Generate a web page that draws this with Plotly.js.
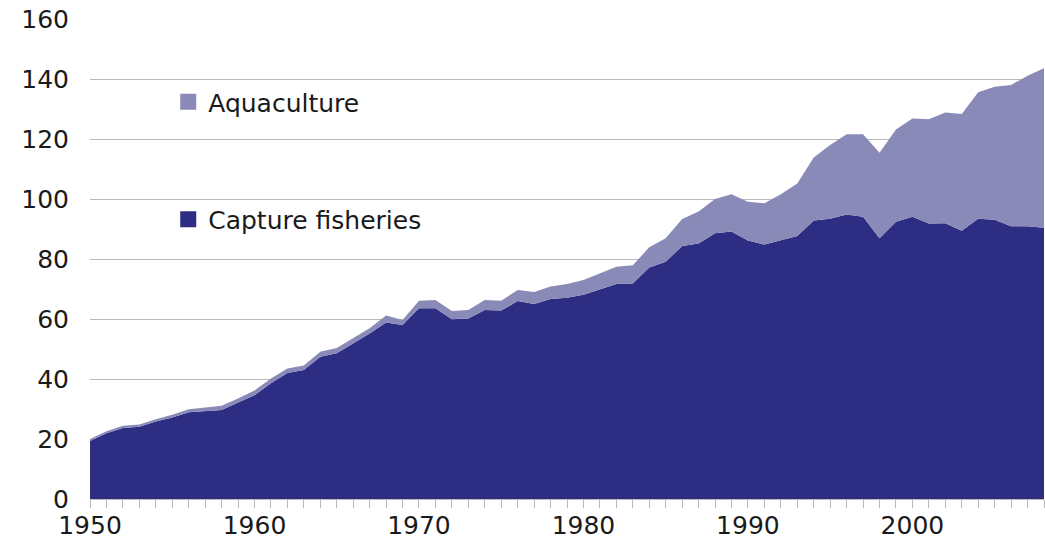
<!DOCTYPE html>
<html>
<head>
<meta charset="utf-8">
<script src="https://cdn.plot.ly/plotly-3.0.1.min.js"></script>
<style>html,body{margin:0;padding:0;background:#fff;}#chart{width:1045px;height:552px;}</style>
</head>
<body>
<div id="chart"></div>
<script>
const years = [];
for (let y = 1950; y <= 2008; y++) years.push(y);

const captureFisheries = [
  19.3, 21.9, 23.7, 24.1, 25.8, 27.2, 28.9, 29.2, 29.7, 32.2,
  34.6, 38.6, 42.0, 43.0, 47.4, 48.6, 51.9, 55.2, 58.8, 58.0,
  63.6, 63.6, 59.9, 60.2, 63.0, 62.8, 66.0, 65.0, 66.7, 67.1,
  68.1, 70.0, 71.7, 71.8, 77.2, 79.1, 84.3, 85.2, 88.6, 89.2,
  86.2, 84.8, 86.3, 87.7, 92.8, 93.4, 94.8, 94.1, 86.9, 92.4,
  94.1, 91.8, 91.9, 89.4, 93.4, 93.1, 90.9, 90.9, 90.4
];

const aquaculture = [
  0.7, 0.7, 0.7, 0.7, 0.8, 0.9, 1.0, 1.2, 1.4, 1.3,
  1.6, 1.6, 1.5, 1.5, 1.7, 1.7, 1.7, 1.7, 2.4, 1.7,
  2.5, 2.7, 2.8, 2.8, 3.3, 3.3, 3.7, 4.0, 4.1, 4.6,
  4.9, 5.2, 5.7, 6.1, 6.7, 7.8, 9.0, 10.6, 11.4, 12.4,
  12.9, 13.8, 15.3, 17.5, 21.0, 24.6, 26.8, 27.5, 28.5, 30.8,
  32.7, 34.8, 36.9, 38.9, 42.2, 44.3, 47.1, 50.2, 53.2
];

const seriesNames = ["Capture fisheries", "Aquaculture"];
const colCapture = "#2E2D84";
const colAqua = "#8A8AB8";

const traces = [
  {x: years, y: captureFisheries, name: seriesNames[0], type: "scatter", mode: "lines",
   stackgroup: "one", line: {width: 0, color: colCapture}, fillcolor: colCapture, showlegend: false},
  {x: years, y: aquaculture, name: seriesNames[1], type: "scatter", mode: "lines",
   stackgroup: "one", line: {width: 0, color: colAqua}, fillcolor: colAqua, showlegend: false},
  // legend entries
  {x: [null], y: [null], name: seriesNames[1], type: "scatter", mode: "markers",
   marker: {symbol: "square", size: 16, color: colAqua}, legendgroup: "a", showlegend: true},
  {x: [null], y: [null], name: seriesNames[0], type: "scatter", mode: "markers",
   marker: {symbol: "square", size: 16, color: colCapture}, legendgroup: "c", showlegend: true}
];

const layout = {
  width: 1045, height: 552,
  margin: {l: 90, r: 1, t: 19, b: 53},
  paper_bgcolor: "#fff", plot_bgcolor: "#fff",
  font: {family: "DejaVu Sans, Verdana, sans-serif", size: 25, color: "#1a1a1a"},
  showlegend: true,
  legend: {x: 0.082, xanchor: "left", y: 0.875, yanchor: "top", bgcolor: "rgba(0,0,0,0)",
           tracegroupgap: 82, traceorder: "grouped", font: {size: 25, color: "#1a1a1a"}},
  xaxis: {
    range: [1950, 2008], dtick: 10, tick0: 1950, showgrid: false, zeroline: false,
    showline: true, linecolor: "#b8b8b8", linewidth: 1,
    ticks: "outside", ticklen: 8, tickcolor: "#b8b8b8", ticklabelstandoff: -4,
    minor: {dtick: 1, ticks: "outside", ticklen: 8, tickcolor: "#b8b8b8", showgrid: false},
    tickfont: {size: 25, color: "#1a1a1a"}, fixedrange: true
  },
  yaxis: {
    range: [0, 160], dtick: 20, showgrid: true, gridcolor: "#b8b8b8", gridwidth: 1,
    zeroline: false, showline: false, ticks: "", ticklabelstandoff: 20,
    tickfont: {size: 25, color: "#1a1a1a"}, fixedrange: true
  }
};

Plotly.newPlot("chart", traces, layout, {displayModeBar: false, staticPlot: true});
</script>
</body>
</html>
